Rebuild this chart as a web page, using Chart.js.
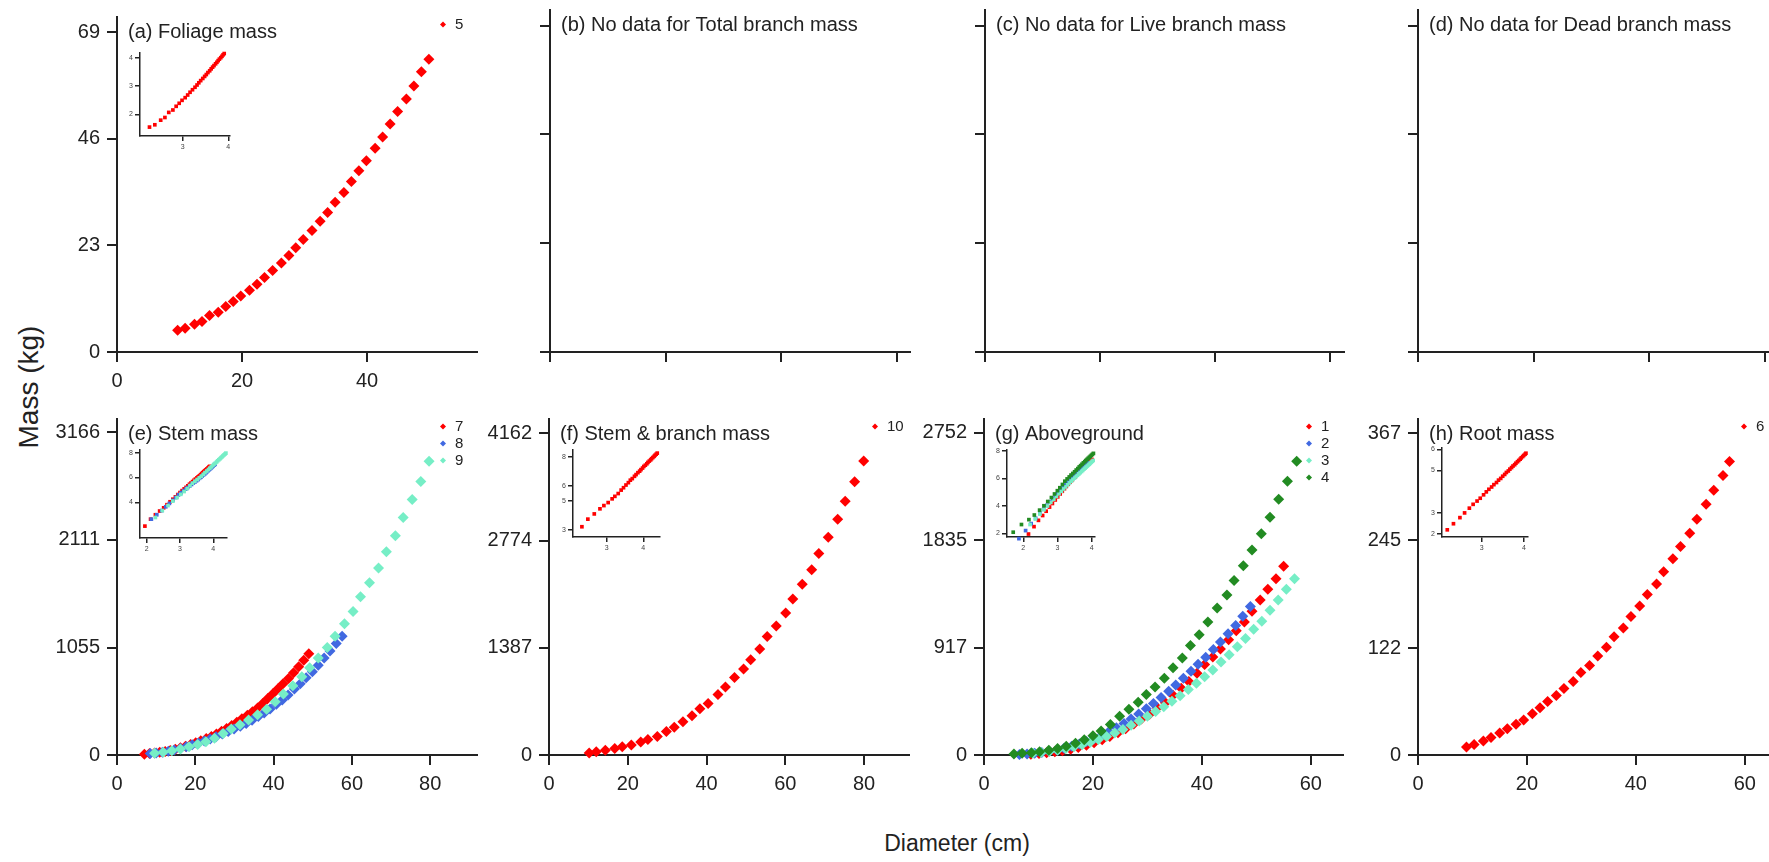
<!DOCTYPE html>
<html>
<head>
<meta charset="utf-8">
<script src="https://cdn.jsdelivr.net/npm/chart.js@4.4.0/dist/chart.umd.min.js"></script>
<style>
  body { margin: 0; background: #fff; overflow: hidden; }
  #fig { position: relative; width: 1769px; height: 862px; overflow: hidden; font-family: "Liberation Sans", Arial, sans-serif; color: #222; }
  .axis-title { position: absolute; white-space: nowrap; }
</style>
</head>
<body>
<div id="fig">
  <div class="axis-title" style="left:29px; top:387px; font-size:28px; transform:translate(-50%,-50%) rotate(-90deg);">Mass (kg)</div>
  <div class="axis-title" style="left:957px; top:843px; font-size:23px; transform:translate(-50%,-50%);">Diameter (cm)</div>
</div>
<script>
// (a) foliage, series 5
const foliageD = [9.7, 10.9, 12.4, 13.6, 14.8, 16.2, 17.4, 18.6, 19.8, 21.2, 22.4, 23.6, 24.9, 26.3, 27.5, 28.6, 29.8, 31.2, 32.5, 33.7, 34.9, 36.3, 37.5, 38.7, 39.9, 41.3, 42.5, 43.7, 44.9, 46.3, 47.5, 48.7, 49.9];
const foliageM = [4.7, 5.1, 6.0, 6.6, 7.9, 8.6, 9.8, 10.9, 12.1, 13.3, 14.6, 16.1, 17.6, 19.2, 20.8, 22.5, 24.3, 26.2, 28.2, 30.1, 32.3, 34.4, 36.8, 39.1, 41.3, 44.0, 46.4, 49.2, 51.9, 54.6, 57.4, 60.5, 63.2];

// (e) stem, series 7 / 8 / 9
const stem7D = [7.0, 8.3, 9.6, 10.9, 12.3, 13.6, 14.9, 16.2, 17.5, 18.8, 20.1, 21.4, 22.8, 24.1, 25.4, 26.7, 28.0, 29.3, 30.6, 31.9, 33.3, 34.6, 35.9, 37.2, 38.5, 39.8, 41.1, 42.4, 43.8, 45.1, 46.4, 47.7, 49.0];
const stem7M = [8, 14, 20, 27, 35, 45, 57, 70, 85, 102, 120, 140, 162, 182, 206, 234, 260, 290, 322, 355, 390, 425, 462, 505, 555, 600, 650, 700, 752, 808, 865, 930, 993];
const stem8D = [8.5, 10.0, 11.6, 13.1, 14.6, 16.2, 17.7, 19.2, 20.8, 22.3, 23.8, 25.3, 26.9, 28.4, 29.9, 31.5, 33.0, 34.5, 36.1, 37.6, 39.1, 40.7, 42.2, 43.7, 45.3, 46.8, 48.3, 49.9, 51.4, 52.9, 54.4, 56.0, 57.5];
const stem8M = [14, 20, 28, 38, 50, 64, 80, 100, 118, 137, 158, 180, 205, 230, 255, 282, 310, 340, 378, 412, 452, 498, 540, 590, 648, 700, 759, 818, 881, 951, 1020, 1095, 1165];
const stem9D = [9.6, 11.8, 14.0, 16.2, 18.4, 20.6, 22.7, 24.9, 27.1, 29.2, 31.4, 33.6, 35.9, 38.2, 40.4, 42.5, 44.9, 47.2, 49.2, 51.4, 53.7, 55.7, 58.1, 60.3, 62.2, 64.5, 66.8, 68.8, 71.1, 73.1, 75.4, 77.6, 79.7];
const stem9M = [16, 28, 42, 60, 80, 104, 130, 165, 210, 255, 298, 343, 394, 449, 522, 599, 679, 769, 856, 951, 1056, 1166, 1287, 1409, 1553, 1691, 1835, 1995, 2152, 2332, 2508, 2684, 2882];

// (f) stem & branch, series 10
const stemBranchD = [10.2, 12.0, 14.3, 16.7, 18.6, 20.9, 23.3, 25.1, 27.5, 29.8, 31.8, 34.0, 36.3, 38.3, 40.4, 42.9, 44.8, 47.1, 49.4, 51.2, 53.5, 55.4, 57.7, 60.1, 61.9, 64.3, 66.7, 68.5, 70.9, 73.3, 75.2, 77.6, 79.9];
const stemBranchM = [25, 42, 60, 85, 106, 130, 168, 199, 241, 305, 359, 431, 507, 600, 668, 782, 879, 1002, 1112, 1234, 1373, 1534, 1669, 1838, 2020, 2210, 2396, 2607, 2818, 3051, 3283, 3537, 3803];

// (g) aboveground, series 1 / 2 / 3 / 4
const agb1D = [8.6, 10.1, 11.5, 13.0, 14.4, 15.9, 17.3, 18.8, 20.2, 21.7, 23.1, 24.6, 26.0, 27.5, 28.9, 30.4, 31.8, 33.3, 34.7, 36.2, 37.6, 39.1, 40.5, 42.0, 43.4, 44.9, 46.3, 47.8, 49.2, 50.7, 52.1, 53.6, 55.0];
const agb1M = [7, 12, 19, 27, 37, 50, 65, 84, 105, 130, 158, 190, 225, 265, 307, 349, 404, 446, 510, 571, 627, 697, 772, 836, 906, 985, 1060, 1135, 1227, 1324, 1416, 1506, 1612];
const agb2D = [6.5, 7.9, 9.3, 10.6, 12.0, 13.4, 14.7, 16.1, 17.5, 18.8, 20.2, 21.6, 22.9, 24.3, 25.7, 27.0, 28.4, 29.8, 31.1, 32.5, 33.9, 35.2, 36.6, 38.0, 39.3, 40.7, 42.1, 43.4, 44.8, 46.2, 47.5, 48.9];
const agb2M = [5, 9, 15, 22, 32, 43, 57, 74, 93, 115, 140, 168, 198, 232, 268, 307, 350, 395, 440, 490, 545, 598, 655, 715, 775, 835, 900, 965, 1035, 1105, 1185, 1269];
const agb3D = [9.0, 10.5, 12.0, 13.5, 15.0, 16.5, 18.0, 19.5, 21.0, 22.5, 24.0, 25.5, 27.0, 28.5, 30.0, 31.5, 33.0, 34.5, 36.0, 37.5, 39.0, 40.5, 42.0, 43.5, 45.0, 46.5, 48.0, 49.5, 51.0, 52.5, 54.0, 55.5, 57.0];
const agb3M = [14, 21, 30, 41, 54, 70, 88, 108, 132, 158, 187, 218, 253, 290, 330, 371, 413, 460, 505, 560, 613, 668, 725, 795, 855, 925, 995, 1073, 1143, 1235, 1324, 1416, 1506];
const agb4D = [5.5, 7.0, 8.7, 10.2, 11.9, 13.5, 15.1, 16.8, 18.4, 20.0, 21.5, 23.2, 24.9, 26.6, 28.3, 29.8, 31.4, 33.1, 34.7, 36.4, 37.9, 39.5, 41.1, 42.8, 44.6, 45.9, 47.6, 49.2, 50.9, 52.5, 54.1, 55.7, 57.4];
const agb4M = [8, 14, 20, 28, 40, 55, 75, 100, 130, 165, 205, 260, 330, 390, 450, 516, 580, 655, 744, 828, 934, 1026, 1135, 1255, 1366, 1491, 1617, 1751, 1890, 2030, 2183, 2337, 2509];

// (h) root, series 6
const rootD = [8.9, 10.3, 12.0, 13.4, 15.0, 16.4, 18.0, 19.4, 21.0, 22.4, 23.8, 25.4, 26.8, 28.5, 29.9, 31.5, 33.0, 34.6, 36.0, 37.7, 39.1, 40.7, 42.1, 43.8, 45.1, 46.8, 48.2, 49.9, 51.2, 52.9, 54.3, 56.0, 57.2];
const rootM = [9, 12, 16, 20, 25, 30, 35, 40, 47, 54, 61, 68, 76, 84, 94, 102, 113, 123, 135, 145, 158, 170, 183, 195, 209, 224, 238, 253, 269, 286, 302, 319, 335];

// tick values
const xTicksA = [0, 20, 40];
const yTicksA = [0, 23, 46, 69];
const xTicksBlank = [0, 20, 40, 60];
const xTicksE = [0, 20, 40, 60, 80];
const yTicksE = [0, 1055, 2111, 3166];
const xTicksF = [0, 20, 40, 60, 80];
const yTicksF = [0, 1387, 2774, 4162];
const xTicksG = [0, 20, 40, 60];
const yTicksG = [0, 917, 1835, 2752];
const xTicksH = [0, 20, 40, 60];
const yTicksH = [0, 122, 245, 367];

const INK = '#222';
const FONT = '"Liberation Sans", Arial, sans-serif';
const RED = '#ff0000', BLUE = '#4169e1', AQUA = '#76eec6', GREEN = '#228b22';

const panels = [
    { box: [117, 477, 10, 352], xMax: 57.6, yMax: 72.3, xTicks: xTicksA, yTicks: yTicksA, labels: true,
      title: '(a) Foliage mass',
      series: [{ name: '5', color: RED, d: foliageD, m: foliageM }],
      inset: { box: [140, 230, 53, 136], x: [2.064, 4.037], y: [1.233, 4.166], xTicks: [3, 4], yTicks: [2, 3, 4] } },
    { box: [550, 910, 10, 352], xMax: 62.3, yMax: 72.3, xTicks: xTicksBlank, yTicks: yTicksA, labels: false,
      title: '(b) No data for Total branch mass', series: [] },
    { box: [985, 1344, 10, 352], xMax: 62.4, yMax: 72.3, xTicks: xTicksBlank, yTicks: yTicksA, labels: false,
      title: '(c) No data for Live branch mass', series: [] },
    { box: [1418, 1778, 10, 352], xMax: 62.3, yMax: 72.3, xTicks: xTicksBlank, yTicks: yTicksA, labels: false,
      title: '(d) No data for Dead branch mass', series: [] },
    { box: [117, 477, 412, 755], xMax: 91.95, yMax: 3297.8, xTicks: xTicksE, yTicks: yTicksE, labels: true,
      title: '(e) Stem mass',
      series: [
          { name: '7', color: RED, d: stem7D, m: stem7M },
          { name: '8', color: BLUE, d: stem8D, m: stem8M },
          { name: '9', color: AQUA, d: stem9D, m: stem9M }
      ],
      inset: { box: [140, 227, 450, 538], x: [1.799, 4.411], y: [1.121, 8.218], xTicks: [2, 3, 4], yTicks: [4, 6, 8] } },
    { box: [549, 909, 412, 755], xMax: 91.4, yMax: 4348, xTicks: xTicksF, yTicks: yTicksF, labels: true,
      title: '(f) Stem & branch mass',
      series: [{ name: '10', color: RED, d: stemBranchD, m: stemBranchM }],
      inset: { box: [573, 660, 450, 537], x: [2.079, 4.456], y: [2.519, 8.457], xTicks: [3, 4], yTicks: [3, 5, 6, 8] } },
    { box: [984, 1343, 412, 755], xMax: 65.9, yMax: 2869, xTicks: xTicksG, yTicks: yTicksG, labels: true,
      title: '(g) Aboveground',
      series: [
          { name: '1', color: RED, d: agb1D, m: agb1M },
          { name: '2', color: BLUE, d: agb2D, m: agb2M },
          { name: '3', color: AQUA, d: agb3D, m: agb3M },
          { name: '4', color: GREEN, d: agb4D, m: agb4M }
      ],
      inset: { box: [1007, 1095, 450, 537], x: [1.523, 4.096], y: [1.730, 8.073], xTicks: [2, 3, 4], yTicks: [2, 4, 6, 8] } },
    { box: [1418, 1778, 412, 755], xMax: 66.1, yMax: 383.4, xTicks: xTicksH, yTicks: yTicksH, labels: true,
      title: '(h) Root mass',
      series: [{ name: '6', color: RED, d: rootD, m: rootM }],
      inset: { box: [1442, 1528, 448, 537], x: [2.061, 4.095], y: [1.858, 6.061], xTicks: [3, 4], yTicks: [2, 3, 5, 6] } }
];

// title top-left, small legend top-right, the way base R puts them
const panelDecor = {
    id: 'panelDecor',
    afterDraw(chart, args, opts) {
        const { ctx, chartArea: area } = chart;
        ctx.save();
        ctx.fillStyle = INK;
        ctx.textBaseline = 'middle';
        ctx.textAlign = 'left';
        ctx.font = `20px ${FONT}`;
        ctx.fillText(opts.title, area.left + 11, area.top + 15);
        ctx.font = `15px ${FONT}`;
        opts.legend.forEach((s, i) => {
            const y = area.top + 7.5 + i * 17;
            const x = area.right - 34;
            ctx.fillStyle = s.color;
            ctx.beginPath();
            ctx.moveTo(x - 3, y);
            ctx.lineTo(x, y - 3);
            ctx.lineTo(x + 3, y);
            ctx.lineTo(x, y + 3);
            ctx.closePath();
            ctx.fill();
            ctx.fillStyle = INK;
            ctx.fillText(s.name, area.right - 22, y);
        });
        ctx.restore();
    }
};

function scaleOpts(min, max, ticks, showLabels, st) {
    return {
        type: 'linear',
        min: min,
        max: max,
        afterBuildTicks: s => { s.ticks = ticks.map(v => ({ value: v })); },
        afterFit: st.fit,
        grid: { drawOnChartArea: false, drawTicks: true, tickLength: st.tick, lineWidth: st.lw, color: INK, tickColor: INK },
        border: { display: true, width: st.lw, color: INK },
        ticks: {
            display: showLabels,
            padding: st.pad,
            color: st.color,
            autoSkip: false,
            maxRotation: 0,
            font: { family: FONT, size: st.font },
            callback: v => String(v)
        }
    };
}

function placeCanvas(box, pad) {
    const [l, r, t, b] = box;
    const cv = document.createElement('canvas');
    const w = r - l + pad.l + pad.r;
    const h = b - t + pad.t + pad.b;
    cv.width = w;
    cv.height = h;
    cv.style.cssText = `position:absolute;left:${l - pad.l}px;top:${t - pad.t}px;width:${w}px;height:${h}px;`;
    document.getElementById('fig').appendChild(cv);
    return cv;
}

function drawPanel(p) {
    const pad = { l: 80, r: 10, t: 12, b: 45 };
    const cv = placeCanvas(p.box, pad);
    const main = { tick: 10, lw: 2, pad: 7, font: 20, color: INK };
    // later series go first so they end up drawn on top
    const datasets = p.series.slice().reverse().map(s => ({
        label: s.name,
        data: s.d.map((x, i) => ({ x: x, y: s.m[i] })),
        backgroundColor: s.color,
        borderColor: s.color,
        pointBackgroundColor: s.color,
        pointBorderWidth: 0,
        pointStyle: 'rectRot',
        pointRadius: 5.5,
        clip: false
    }));

    new Chart(cv, {
        type: 'scatter',
        data: { datasets },
        options: {
            responsive: false,
            animation: false,
            events: [],
            layout: { padding: { left: 0, top: pad.t, right: pad.r, bottom: 0 } },
            plugins: {
                legend: { display: false },
                tooltip: { enabled: false },
                panelDecor: { title: p.title, legend: p.series.map(s => ({ name: s.name, color: s.color })) }
            },
            scales: {
                x: scaleOpts(0, p.xMax, p.xTicks, p.labels, { ...main, fit: s => { s.height = pad.b; } }),
                y: scaleOpts(0, p.yMax, p.yTicks, p.labels, { ...main, fit: s => { s.width = pad.l; } })
            }
        },
        plugins: [panelDecor]
    });

    if (p.inset) drawInset(p);
}

// log-log inset of the same series
function drawInset(p) {
    const q = p.inset;
    const pad = { l: 20, r: 8, t: 8, b: 20 };
    const cv = placeCanvas(q.box, pad);
    const small = { tick: 5, lw: 1.5, pad: 2, font: 7, color: '#444' };
    const datasets = p.series.slice().reverse().map(s => ({
        label: s.name,
        data: s.d.map((x, i) => ({ x: Math.log(x), y: Math.log(s.m[i]) })),
        backgroundColor: s.color,
        pointBackgroundColor: s.color,
        pointBorderWidth: 0,
        pointStyle: 'rect',
        pointRadius: 2.6,
        clip: false
    }));

    new Chart(cv, {
        type: 'scatter',
        data: { datasets },
        options: {
            responsive: false,
            animation: false,
            events: [],
            layout: { padding: { left: 0, top: pad.t, right: pad.r, bottom: 0 } },
            plugins: { legend: { display: false }, tooltip: { enabled: false } },
            scales: {
                x: scaleOpts(q.x[0], q.x[1], q.xTicks, true, { ...small, fit: s => { s.height = pad.b; } }),
                y: scaleOpts(q.y[0], q.y[1], q.yTicks, true, { ...small, fit: s => { s.width = pad.l; } })
            }
        }
    });
}

panels.forEach(drawPanel);
</script>
</body>
</html>
